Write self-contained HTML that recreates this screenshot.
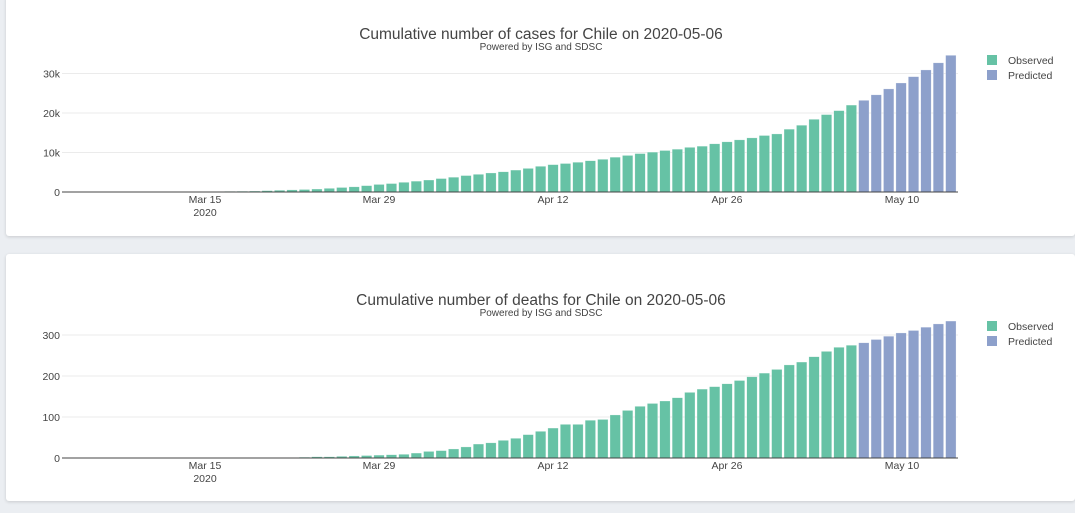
<!DOCTYPE html>
<html><head><meta charset="utf-8">
<style>
html,body{margin:0;padding:0;background:#ebeef2;width:1075px;height:513px;overflow:hidden;font-family:"Liberation Sans",sans-serif}
.card{position:absolute;left:6px;width:1069px;background:#fff;box-shadow:0 1px 3px rgba(0,0,0,0.15);border-radius:3px}
svg{position:absolute;left:0;top:0}
</style></head><body>
<div class="card" style="top:-4px;height:240px"></div>
<div class="card" style="top:254px;height:247px"></div>
<svg id="s" width="1075" height="513" font-family="Liberation Sans, sans-serif"></svg>
<script>
var cases=[0.003,0.004,0.005,0.007,0.010,0.013,0.017,0.023,0.033,0.043,0.061,0.075,0.156,0.201,0.238,0.342,0.434,0.537,0.632,0.746,0.922,1.142,1.306,1.610,1.909,2.139,2.449,2.738,3.031,3.404,3.737,4.161,4.471,4.815,5.116,5.546,5.972,6.501,6.927,7.213,7.525,7.917,8.273,8.807,9.252,9.730,10.088,10.507,10.832,11.296,11.6,12.2,12.7,13.2,13.7,14.3,14.7,15.9,16.9,18.4,19.6,20.6,22.0,23.2,24.6,26.1,27.6,29.2,30.9,32.7,34.6];
while(cases.length<72)cases.unshift(0.002);
var dm={21:1,22:1,23:2,24:3,25:3,26:4,27:5,28:6,29:7,30:8,31:9};
var deathsTail=[12,16,18,22,27,34,37,43,48,57,65,73,82,82,92,94,105,116,126,133,139,147,160,168,174,181,189,198,207,216,227,234,247,260,270,275,281,289,297,305,311,319,327,334];
var deaths=[];
for(var d=4;d<=31;d++)deaths.push(dm[d]||0);
deaths=deaths.concat(deathsTail);
var h='';
var TC='#444';
function chart(off,data,scale,ticks,title){
  var base=192+off;
  h+='<text x="541" y="'+(39+off)+'" text-anchor="middle" font-size="15.5" fill="'+TC+'">'+title+'</text>';
  h+='<text x="541" y="'+(50+off)+'" text-anchor="middle" font-size="10" fill="'+TC+'">Powered by ISG and SDSC</text>';
  ticks.forEach(function(t){var y=base-t[0]*scale;
    if(t[0]>0)h+='<line x1="62" x2="958" y1="'+y+'" y2="'+y+'" stroke="#ebebeb" stroke-width="1"/>';
    h+='<text x="60" y="'+(y+4)+'" text-anchor="end" font-size="10.5" fill="'+TC+'">'+t[1]+'</text>';});
  var n=data.length;
  for(var i=0;i<n;i++){
    var cx=68.3+12.43*i, ht=data[i]*scale, col=i>=n-8?'#8da0cb':'#66c2a5';
    h+='<rect x="'+(cx-5.2).toFixed(2)+'" y="'+(base-ht).toFixed(2)+'" width="10.4" height="'+ht.toFixed(2)+'" fill="'+col+'" stroke="rgba(255,255,255,0.5)" stroke-width="0.5"/>';
  }
  h+='<line x1="62" x2="958" y1="'+base+'" y2="'+base+'" stroke="#444" stroke-width="1"/>';
  [[205,'Mar 15'],[379,'Mar 29'],[553,'Apr 12'],[727,'Apr 26'],[902,'May 10']].forEach(function(t){
    h+='<text x="'+t[0]+'" y="'+(base+11)+'" text-anchor="middle" font-size="10.5" fill="'+TC+'">'+t[1]+'</text>';});
  h+='<text x="205" y="'+(base+24)+'" text-anchor="middle" font-size="10.5" fill="'+TC+'">2020</text>';
  h+='<rect x="987" y="'+(55+off)+'" width="10" height="10" fill="#66c2a5"/>';
  h+='<rect x="987" y="'+(70+off)+'" width="10" height="10" fill="#8da0cb"/>';
  h+='<text x="1008" y="'+(64+off)+'" font-size="10.5" fill="'+TC+'">Observed</text>';
  h+='<text x="1008" y="'+(79+off)+'" font-size="10.5" fill="'+TC+'">Predicted</text>';
}
chart(0,cases,3.95,[[0,'0'],[10,'10k'],[20,'20k'],[30,'30k']],'Cumulative number of cases for Chile on 2020-05-06');
chart(266,deaths,0.41,[[0,'0'],[100,'100'],[200,'200'],[300,'300']],'Cumulative number of deaths for Chile on 2020-05-06');
document.getElementById('s').innerHTML=h;
</script>
</body></html>
